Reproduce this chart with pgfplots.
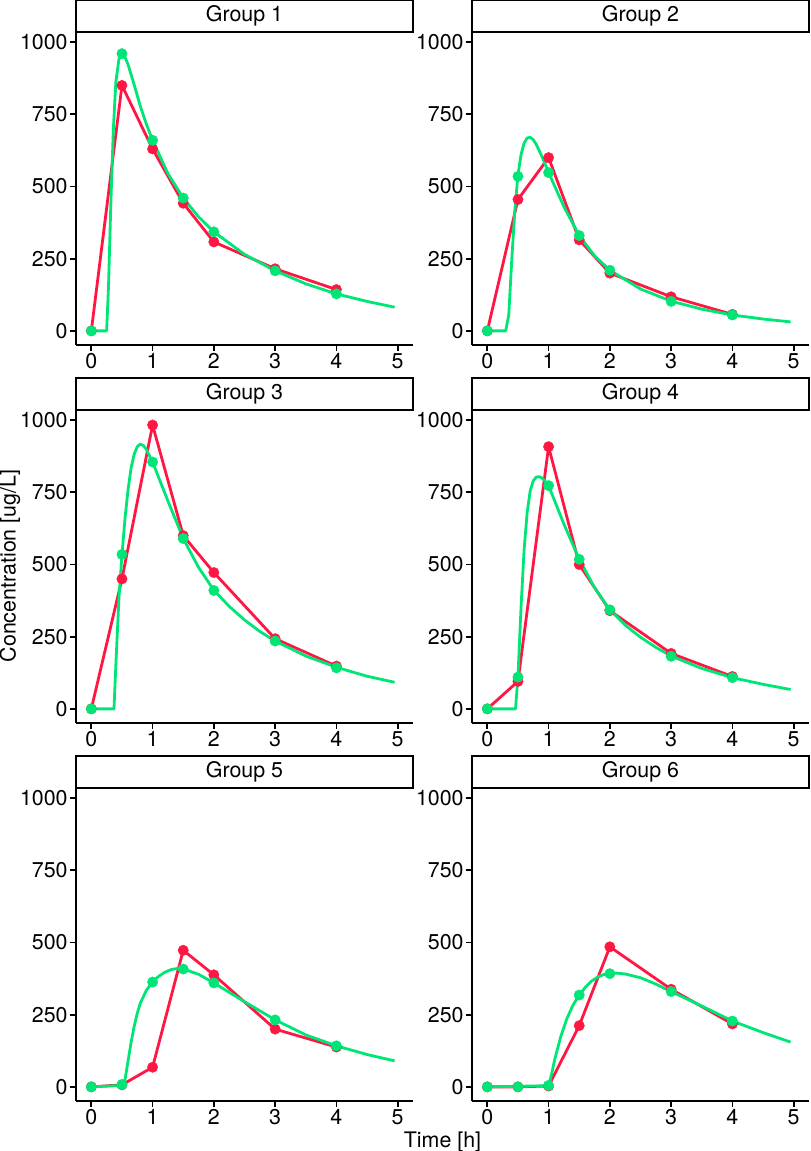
\documentclass[border=0pt]{standalone}
\usepackage{fontspec}
\setmainfont{TeX Gyre Heros}
\usepackage{pgfplots}
\pgfplotsset{compat=1.18}
\definecolor{obsred}{RGB}{255,23,68}
\definecolor{modgreen}{RGB}{0,230,118}
\pgfplotsset{
  panel/.style={
    scale only axis, width=168.5pt, height=156.5pt,
    anchor=south west,
    xmin=-0.25, xmax=5.25, ymin=-49, ymax=1035,
    axis lines=left,
    axis line style={-, line width=0.9pt, black},
    tick style={line width=0.9pt, black},
    major tick length=2.8pt,
    tick align=outside,
    xtick={0,1,2,3,4,5},
    ytick={0,250,500,750,1000},
    /pgf/number format/1000 sep={},
    /pgf/number format/assume math mode=true,
    ticklabel style={font=\fontsize{10.7}{12}\selectfont, inner sep=1.2pt},
  },
  obs/.style={obsred, line width=1.4pt, line join=round, mark=*, mark size=2.6pt, mark options={solid, line width=0.2pt}},
  modl/.style={modgreen, line width=1.4pt, line join=round, no marks},
  modp/.style={modgreen, only marks, mark=*, mark size=2.6pt, mark options={line width=0.2pt}},
}
\newcommand{\strip}[2]{%
  \draw[line width=0.9pt, fill=white] (#1.north west) rectangle ([yshift=16pt]#1.north east);
  \node[font=\fontsize{10.7}{12}\selectfont] at ([yshift=8pt]#1.north) {#2};}
\begin{document}
\begin{tikzpicture}
\useasboundingbox (0,0) rectangle (405pt,-575.5pt);
% Group 1
\begin{axis}[panel, name=g1, at={(38pt,-172.5pt)}]
\addplot[obs] coordinates {(0,0) (0.5,850) (1,630) (1.5,442) (2,308) (3,215) (4,143)};
\addplot[modl] coordinates {(0,0) (0.25,0) (0.28,150) (0.32,450) (0.36,700) (0.4,860) (0.45,940) (0.5,962) (0.55,948) (0.6,922) (0.7,852) (0.8,778) (0.9,715) (1.0,660) (1.25,545) (1.5,460) (1.75,395) (2.0,343) (2.5,265) (3.0,208) (3.5,163) (4.0,128) (4.5,102) (4.95,82)};
\addplot[modp] coordinates {(0,0) (0.5,960) (1,660) (1.5,460) (2,343) (3,208) (4,128)};
\end{axis}
\strip{g1}{Group 1}
% Group 2
\begin{axis}[panel, name=g2, at={(236pt,-172.5pt)}]
\addplot[obs] coordinates {(0,0) (0.5,455) (1,600) (1.5,315) (2,200) (3,118) (4,57)};
\addplot[modl] coordinates {(0,0) (0.3,0) (0.35,55) (0.4,250) (0.45,420) (0.5,540) (0.55,610) (0.6,650) (0.65,668) (0.7,670) (0.75,662) (0.8,645) (0.9,600) (1.0,548) (1.25,430) (1.5,330) (1.75,260) (2.0,210) (2.5,145) (3.0,103) (3.5,75) (4.0,55) (4.5,41) (4.95,31)};
\addplot[modp] coordinates {(0,0) (0.5,535) (1,548) (1.5,330) (2,210) (3,102) (4,55)};
\end{axis}
\strip{g2}{Group 2}
% Group 3
\begin{axis}[panel, name=g3, at={(38pt,-361.5pt)}]
\addplot[obs] coordinates {(0,0) (0.5,450) (1,983) (1.5,600) (2,472) (3,243) (4,148)};
\addplot[modl] coordinates {(0,0) (0.37,0) (0.4,150) (0.45,380) (0.5,533) (0.55,660) (0.6,760) (0.65,835) (0.7,882) (0.75,908) (0.8,917) (0.85,912) (0.9,898) (1.0,855) (1.25,720) (1.5,590) (1.75,490) (2.0,411) (2.25,355) (2.5,308) (2.75,268) (3.0,235) (3.5,183) (4.0,144) (4.5,113) (4.95,92)};
\addplot[modp] coordinates {(0,0) (0.5,535) (1,855) (1.5,590) (2,410) (3,235) (4,142)};
\end{axis}
\strip{g3}{Group 3}
% Group 4
\begin{axis}[panel, name=g4, at={(236pt,-361.5pt)}]
\addplot[obs] coordinates {(0,0) (0.5,95) (1,908) (1.5,500) (2,340) (3,192) (4,112)};
\addplot[modl] coordinates {(0,0) (0.46,0) (0.5,111) (0.55,350) (0.6,550) (0.65,680) (0.7,755) (0.75,790) (0.8,803) (0.85,804) (0.9,798) (0.95,787) (1.0,773) (1.25,640) (1.5,518) (1.75,420) (2.0,343) (2.25,290) (2.5,248) (2.75,213) (3.0,183) (3.5,140) (4.0,108) (4.5,85) (4.95,67)};
\addplot[modp] coordinates {(0,0) (0.5,110) (1,773) (1.5,518) (2,343) (3,182) (4,108)};
\end{axis}
\strip{g4}{Group 4}
% Group 5
\begin{axis}[panel, name=g5, at={(38pt,-550.5pt)}]
\addplot[obs] coordinates {(0,0) (0.5,7) (1,68) (1.5,473) (2,388) (3,200) (4,138)};
\addplot[modl] coordinates {(0,0) (0.5,5) (0.55,25) (0.6,90) (0.65,155) (0.7,210) (0.75,255) (0.8,290) (0.9,335) (1.0,363) (1.1,383) (1.2,397) (1.3,406) (1.4,410) (1.5,408) (1.75,390) (2.0,360) (2.5,295) (3.0,232) (3.5,180) (4.0,142) (4.5,112) (4.95,90)};
\addplot[modp] coordinates {(0,0) (0.5,8) (1,363) (1.5,408) (2,360) (3,232) (4,142)};
\end{axis}
\strip{g5}{Group 5}
% Group 6
\begin{axis}[panel, name=g6, at={(236pt,-550.5pt)}]
\addplot[obs] coordinates {(0,0) (0.5,0) (1,3) (1.5,212) (2,485) (3,338) (4,218)};
\addplot[modl] coordinates {(0,0) (1.0,4) (1.05,45) (1.1,95) (1.2,175) (1.3,237) (1.4,284) (1.5,318) (1.6,345) (1.7,366) (1.8,380) (1.9,389) (2.0,392) (2.1,394) (2.25,391) (2.5,378) (2.75,356) (3.0,330) (3.5,280) (4.0,228) (4.5,188) (4.95,155)};
\addplot[modp] coordinates {(0,0) (0.5,0) (1,5) (1.5,318) (2,392) (3,330) (4,228)};
\end{axis}
\strip{g6}{Group 6}
% axis titles
\node[rotate=90, font=\fontsize{10.7}{12}\selectfont, anchor=center] at (5pt,-283pt) {Concentration [ug/L]};
\node[font=\fontsize{10.7}{12}\selectfont, anchor=base] at (221.25pt,-573.5pt) {Time [h]};
\end{tikzpicture}
\end{document}
